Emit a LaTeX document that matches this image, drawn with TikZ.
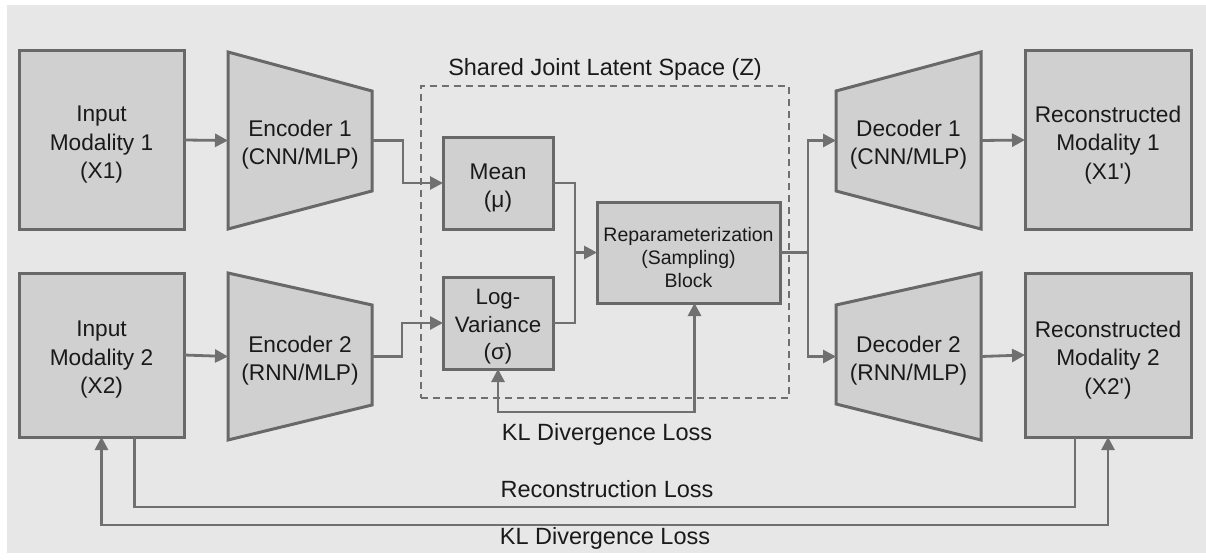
\documentclass[tikz,border=0pt]{standalone}
\usepackage{fontspec}
\setmainfont{Liberation Sans}
\usetikzlibrary{arrows.meta,calc}
\pgfdeclarelayer{back}
\pgfdeclarelayer{mid}
\pgfsetlayers{back,mid,main}
\definecolor{bgcol}{HTML}{E7E7E7}
\definecolor{boxfill}{HTML}{D0D0D0}
\definecolor{edgecol}{HTML}{686868}
\definecolor{wirecol}{HTML}{707070}
\definecolor{inkcol}{HTML}{1A1A1A}
\tikzset{
  every node/.style={text=inkcol, outer sep=0pt, inner sep=2pt},
  txt/.style={font=\fontsize{22.7}{28.5}\selectfont, align=center},
  blockbox/.style={draw=edgecol, line width=3pt, fill=boxfill},
  trapfill/.style={draw=edgecol, line width=3pt, fill=boxfill, line join=miter},
  wire/.style={draw=wirecol, line width=2.8pt},
  conn/.style={wire, -{Triangle[length=13pt,width=13pt]}},
  biconn/.style={wire, {Triangle[length=13pt,width=13pt]}-{Triangle[length=13pt,width=13pt]}},
  zonebox/.style={draw=wirecol, line width=2.6pt, dash pattern=on 7pt off 5pt},
  losslabel/.style={font=\fontsize{23.5}{28}\selectfont},
}
\begin{document}
\begin{tikzpicture}[x=1pt, y=-1pt]
\useasboundingbox (0,0) rectangle (1206,559);
\begin{pgfonlayer}{back}
  \fill[bgcol] (7,5) rectangle (1206,553);
\end{pgfonlayer}

% inputs and reconstructions
\node[blockbox, minimum width=165pt, minimum height=178pt] (in1) at (101.5,140) {};
\node[blockbox, minimum width=165pt, minimum height=164pt] (in2) at (101.5,355) {};
\node[blockbox, minimum width=166pt, minimum height=178pt] (rec1) at (1108,140) {};
\node[blockbox, minimum width=166pt, minimum height=164pt] (rec2) at (1108,355) {};
\node[txt] (in1t) at ([yshift=-5pt]in1.center) {Input\\Modality 1\\(X1)};
\node[txt] (in2t) at ([yshift=-5pt]in2.center) {Input\\Modality 2\\(X2)};
\node[txt] (rec1t) at ([yshift=-5pt]rec1.center) {Reconstructed\\Modality 1\\(X1\textquotesingle)};
\node[txt] (rec2t) at ([yshift=-5pt]rec2.center) {Reconstructed\\Modality 2\\(X2\textquotesingle)};

% encoders and decoders: trapezoids around invisible frames
\node[minimum width=144pt, minimum height=177pt] (enc1) at (300,140.5) {};
\node[minimum width=144pt, minimum height=167pt] (enc2) at (300,356.5) {};
\node[minimum width=145pt, minimum height=177pt] (dec1) at (908.5,140.5) {};
\node[minimum width=145pt, minimum height=167pt] (dec2) at (908.5,356.5) {};
\begin{pgfonlayer}{mid}
  \path[trapfill] (enc1.north west) -- ($(enc1.north east)+(0,39)$) -- ($(enc1.south east)+(0,-38)$) -- (enc1.south west) -- cycle;
  \path[trapfill] (enc2.north west) -- ($(enc2.north east)+(0,32)$) -- ($(enc2.south east)+(0,-35)$) -- (enc2.south west) -- cycle;
  \path[trapfill] ($(dec1.north west)+(0,39)$) -- (dec1.north east) -- (dec1.south east) -- ($(dec1.south west)+(0,-38)$) -- cycle;
  \path[trapfill] ($(dec2.north west)+(0,32)$) -- (dec2.north east) -- (dec2.south east) -- ($(dec2.south west)+(0,-36)$) -- cycle;
\end{pgfonlayer}
\node[txt] (enc1t) at ([yshift=-4pt]enc1.center) {Encoder 1\\(CNN/MLP)};
\node[txt] (enc2t) at ([yshift=-4pt]enc2.center) {Encoder 2\\(RNN/MLP)};
\node[txt] (dec1t) at ([yshift=-4pt]dec1.center) {Decoder 1\\(CNN/MLP)};
\node[txt] (dec2t) at ([yshift=-4pt]dec2.center) {Decoder 2\\(RNN/MLP)};

% latent space
\node[zonebox, minimum width=368pt, minimum height=312pt] (zone) at (605,242) {};
\node[losslabel] (ztitle) at (605,69) {Shared Joint Latent Space (Z)};
\node[blockbox, minimum width=110pt, minimum height=92pt] (mean) at (498,183) {};
\node[blockbox, minimum width=110pt, minimum height=92pt] (logvar) at (498,323) {};
\node[blockbox, minimum width=183pt, minimum height=101pt] (rep) at (688.5,252.5) {};
\node[txt] (meant) at ([yshift=-5pt]mean.center) {Mean\\(μ)};
\node[txt, font=\fontsize{22.3}{27.5}\selectfont] (logvart) at ([yshift=-4pt]logvar.center) {Log-\\Variance\\(σ)};
\node[txt, font=\fontsize{19.5}{23}\selectfont] (rept) at ([yshift=-5pt]rep.center) {Reparameterization\\(Sampling)\\Block};

% forward flow
\draw[conn] (in1.east) -- (enc1.west);
\draw[conn] (in2.east) -- (enc2.west);
\draw[conn] (enc1.east) -- ++(31,0) |- (mean.west);
\draw[conn] (enc2.east) -- ++(30,0) |- (logvar.west);
\coordinate (join) at ($(rep.west)+(-22,0)$);
\draw[wire] (mean.east) -| (join);
\draw[wire] (logvar.east) -| (join);
\draw[conn] (join) -- (rep.west);
\coordinate (split) at ($(rep.east)+(28,0)$);
\draw[wire] (rep.east) -- (split);
\draw[conn] (split) |- (dec1.west);
\draw[conn] (split) |- (dec2.west);
\draw[conn] (dec1.east) -- (rec1.west);
\draw[conn] (dec2.east) -- (rec2.west);

% loss paths
\draw[biconn] (logvar.south) -- ++(0,43) -| ($(rep.south)+(6,0)$);
\node[losslabel] (klin) at (607,434) {KL Divergence Loss};
\draw[wire] ($(in2.south)+(33,0)$) -- ++(0,70) -| ($(rec2.south)+(-33,0)$);
\node[losslabel] (recloss) at (607,489) {Reconstruction Loss};
\draw[biconn] (in2.south) -- ++(0,88) -| (rec2.south);
\node[losslabel] (klout) at (605,538) {KL Divergence Loss};
\end{tikzpicture}
\end{document}
